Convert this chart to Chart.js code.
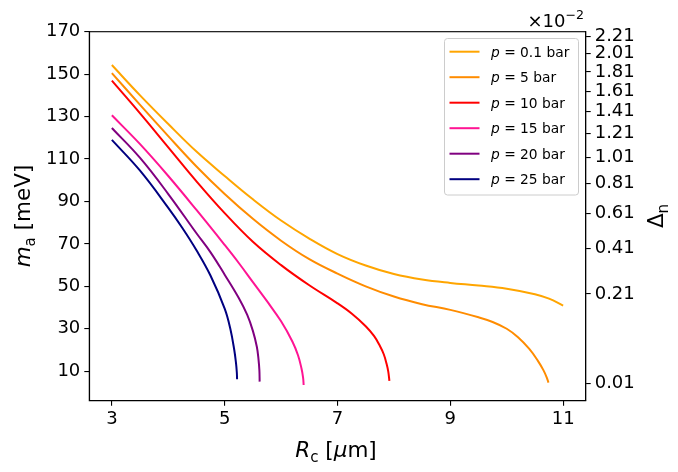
<!DOCTYPE html>
<html>
<head>
<meta charset="utf-8">
<script src="https://cdn.jsdelivr.net/npm/chart.js@4.4.1/dist/chart.umd.min.js"></script>
<style>
html, body { margin: 0; padding: 0; background: #fff; }
</style>
</head>
<body>
<canvas id="chart" width="678" height="472"></canvas>
<script>
const FONT = "'DejaVu Sans', sans-serif";

// pressures and line colours
const pressures = ['0.1', '5', '10', '15', '20', '25'];
const colors = ['#ffa500', '#ff8c00', '#ff0000', '#ff1493', '#800080', '#000080'];

// R_c [um] and m_a [meV] for each pressure
const rc01 = [3, 3.5, 4, 4.5, 5, 5.5, 6, 6.5, 7, 7.5, 8, 8.5, 9, 9.5, 10, 10.5, 10.75, 11];
const ma01 = [154.3, 140, 126.5, 113.5, 102, 91, 81, 72.5, 65.2, 59.8, 55.8, 53.2, 51.6, 50.4, 48.9, 46.3, 44.2, 40.9];

const rc5 = [3, 3.5, 4, 4.5, 5, 5.5, 6, 6.5, 7, 7.5, 8, 8.5, 9, 9.5, 9.75, 10, 10.2, 10.4, 10.55, 10.65, 10.71, 10.74];
const ma5 = [150.5, 135.5, 120.8, 106.5, 93.5, 81.8, 71.5, 62.8, 56, 50, 45.2, 41.6, 38.9, 35.4, 33.2, 30, 26, 20.5, 15, 10.5, 7, 4.6];

const rc10 = [3, 3.5, 4, 4.5, 5, 5.5, 6, 6.5, 7, 7.25, 7.5, 7.65, 7.75, 7.82, 7.87, 7.9, 7.92];
const ma10 = [146.9, 131.5, 115.5, 99.5, 84.5, 71, 60, 50.5, 42, 37.2, 31.2, 26.5, 22, 18, 13.5, 9.8, 5.5];

const rc15 = [3, 3.5, 4, 4.5, 5, 5.25, 5.5, 5.75, 6, 6.2, 6.3, 6.36, 6.39, 6.4];
const ma15 = [130.6, 117, 102, 86, 69.5, 61, 52, 43, 33.5, 24, 17.5, 11.5, 7, 3.5];

const rc20 = [3, 3.5, 4, 4.5, 4.75, 5, 5.25, 5.4, 5.5, 5.57, 5.6, 5.615, 5.62];
const ma20 = [124.6, 110.5, 93.5, 75, 66, 55.5, 44.5, 36.5, 29, 21.5, 15.5, 10.5, 5.1];

const rc25 = [3, 3.5, 4, 4.25, 4.5, 4.75, 5, 5.1, 5.17, 5.2, 5.215, 5.22];
const ma25 = [119, 104.5, 87, 77.5, 67, 55, 39.5, 30, 20, 14, 9.5, 6.2];

const rcAll = [rc01, rc5, rc10, rc15, rc20, rc25];
const maAll = [ma01, ma5, ma10, ma15, ma20, ma25];

// tick labels
const xTicks = [3, 5, 7, 9, 11];
const maTicks = [10, 30, 50, 70, 90, 110, 130, 150, 170];
const deltaTicks = [0.01, 0.21, 0.41, 0.61, 0.81, 1.01, 1.21, 1.41, 1.61, 1.81, 2.01, 2.21];

// where a Delta_n tick (x1e-2) sits on the m_a scale
function deltaToMa(d) {
    return 118 * Math.sqrt(d) - 7.7;
}

// draw a run of text pieces (italic / subscript / superscript)
function richText(ctx, segs, x, y, size, align, rot) {
    const fontFor = s => (s.it ? 'italic ' : '') + (s.sub || s.sup ? size * 0.7 : size) + 'px ' + FONT;
    let total = 0;
    segs.forEach(s => { ctx.font = fontFor(s); total += ctx.measureText(s.t).width; });
    ctx.save();
    ctx.translate(x, y);
    if (rot) ctx.rotate(rot);
    let cx = align === 'center' ? -total / 2 : align === 'right' ? -total : 0;
    ctx.fillStyle = '#000';
    ctx.textBaseline = 'alphabetic';
    ctx.textAlign = 'left';
    segs.forEach(s => {
        ctx.font = fontFor(s);
        const dy = s.sub ? size * 0.22 : s.sup ? -size * 0.45 : 0;
        ctx.fillText(s.t, cx, dy);
        cx += ctx.measureText(s.t).width;
    });
    ctx.restore();
}

const decorations = {
    id: 'decorations',
    afterDatasetsDraw(chart) {
        const ctx = chart.ctx;
        const a = chart.chartArea;
        ctx.save();
        ctx.strokeStyle = '#000';
        ctx.lineWidth = 1.1;
        ctx.strokeRect(a.left, a.top, a.right - a.left, a.bottom - a.top);
        ctx.restore();
    },
    afterDraw(chart) {
        const ctx = chart.ctx;
        // axis titles
        richText(ctx, [{ t: 'R', it: true }, { t: 'c', sub: true }, { t: ' [' }, { t: 'μ', it: true }, { t: 'm]' }], 336, 457, 21.5, 'center');
        richText(ctx, [{ t: 'm', it: true }, { t: 'a', sub: true }, { t: ' [meV]' }], 30, 216, 21.5, 'center', -Math.PI / 2);
        richText(ctx, [{ t: 'Δ' }, { t: 'n', sub: true }], 663, 216, 21.5, 'center', -Math.PI / 2);
        richText(ctx, [{ t: '×10' }, { t: '−2', sup: true }], 584, 27, 18, 'right');

        // legend inside the plot
        const bx = 444.5, by = 38.5, bw = 134, bh = 156.5;
        ctx.save();
        ctx.beginPath();
        ctx.roundRect(bx, by, bw, bh, 3);
        ctx.fillStyle = 'rgba(255,255,255,0.8)';
        ctx.fill();
        ctx.strokeStyle = '#cccccc';
        ctx.lineWidth = 1;
        ctx.stroke();
        chart.data.datasets.forEach((ds, i) => {
            const yy = 51.7 + i * 25.5;
            ctx.strokeStyle = ds.borderColor;
            ctx.lineWidth = 2;
            ctx.beginPath();
            ctx.moveTo(449.5, yy);
            ctx.lineTo(479.5, yy);
            ctx.stroke();
            richText(ctx, [{ t: 'p', it: true }, { t: ' = ' + pressures[i] + ' bar' }], 491, yy + 5, 13.8, 'left');
        });
        ctx.restore();
    }
};

const tickFont = { family: FONT, size: 18 };

new Chart(document.getElementById('chart').getContext('2d'), {
    type: 'line',
    data: {
        datasets: pressures.map((p, i) => ({
            label: 'p = ' + p + ' bar',
            data: rcAll[i].map((r, j) => ({ x: r, y: maAll[i][j] })),
            borderColor: colors[i],
            backgroundColor: colors[i],
            borderWidth: 2,
            pointRadius: 0,
            fill: false,
            tension: 0.4,
            yAxisID: 'y'
        }))
    },
    options: {
        responsive: false,
        animation: false,
        devicePixelRatio: 1,
        layout: { padding: { top: 31.7, left: 0, right: 0, bottom: 0 } },
        plugins: {
            legend: { display: false },
            tooltip: { enabled: false }
        },
        scales: {
            x: {
                type: 'linear',
                min: 2.6,
                max: 11.4,
                afterBuildTicks: s => { s.ticks = xTicks.map(v => ({ value: v })); },
                afterFit: s => { s.height = 71.3; },
                ticks: { font: tickFont, color: '#000', autoSkip: false, maxRotation: 0, padding: 3 },
                grid: { drawOnChartArea: false, color: '#000', tickLength: 5, lineWidth: 1.1 },
                border: { display: true, color: '#000', width: 1.1 }
            },
            y: {
                type: 'linear',
                position: 'left',
                min: -3.9,
                max: 170,
                afterBuildTicks: s => { s.ticks = maTicks.map(v => ({ value: v })); },
                afterFit: s => { s.width = 89.3; },
                ticks: { font: tickFont, color: '#000', autoSkip: false, padding: 4 },
                grid: { drawOnChartArea: false, color: '#000', tickLength: 5, lineWidth: 1.1 },
                border: { display: true, color: '#000', width: 1.1 }
            },
            y2: {
                type: 'linear',
                position: 'right',
                min: -3.9,
                max: 170,
                afterBuildTicks: s => { s.ticks = deltaTicks.map(d => ({ value: deltaToMa(d) })); },
                afterFit: s => { s.width = 92.3; },
                ticks: {
                    font: tickFont, color: '#000', autoSkip: false, padding: 4,
                    callback: (v, i) => deltaTicks[i].toFixed(2)
                },
                grid: { drawOnChartArea: false, color: '#000', tickLength: 5, lineWidth: 1.1 },
                border: { display: true, color: '#000', width: 1.1 }
            }
        }
    },
    plugins: [decorations]
});
</script>
</body>
</html>
